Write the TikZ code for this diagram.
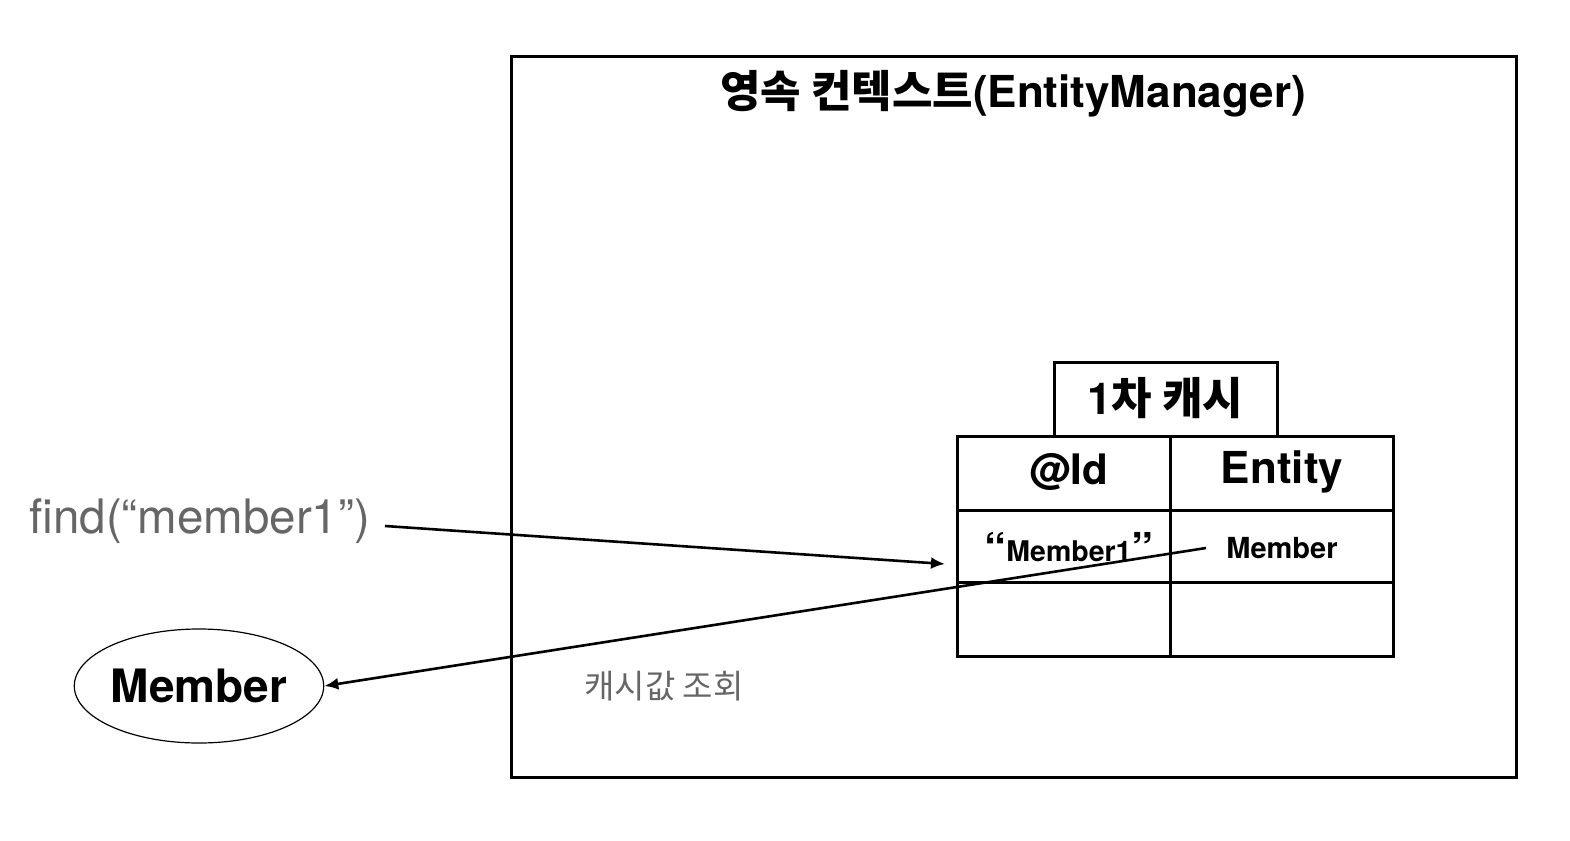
\documentclass[tikz,border=0pt]{standalone}
\usepackage{fontspec}
\setmainfont{TeX Gyre Heros}
\newfontfamily\kr{Noto Sans CJK KR}
\usetikzlibrary{arrows.meta,shapes.geometric}
\definecolor{txtgray}{HTML}{666666}
\tikzset{
  box/.style={draw=black,line width=3pt},
  cell/.style={draw=black,line width=3pt},
  conn/.style={draw=black,line width=2.6pt,-{Latex[length=14pt,width=12pt]}},
}
\begin{document}
\begin{tikzpicture}[x=1pt,y=-1pt]
\useasboundingbox (0,0) rectangle (1570,840);
% outer context
\draw[box] (511,57) rectangle (1516,777);
\node (title) at (1013,94) {\fontsize{44}{48}\selectfont\bfseries\kr 영속 컨텍스트\rmfamily\bfseries(EntityManager)};
% cache label box
\draw[box] (1054,362) rectangle (1277,436);
\node (cachelbl) at (1165,398) {\fontsize{44}{48}\selectfont\bfseries 1\kr 차 캐시};
% table
\draw[cell] (957,436) rectangle (1393,656);
\draw[cell] (1170,436) -- (1170,656);
\draw[cell] (957,510) -- (1393,510);
\draw[cell] (957,582) -- (1393,582);
\node (idh) at (1069,472) {\fontsize{42}{46}\selectfont\bfseries @Id};
\node (enth) at (1282,472) {\fontsize{44}{48}\selectfont\bfseries Entity};
\node (key) at (1069,548) {\raisebox{-3pt}{\fontsize{44}{46}\selectfont\bfseries``}\fontsize{28.5}{32}\selectfont\bfseries Member1\raisebox{-3pt}{\fontsize{44}{46}\selectfont\bfseries''}};
\node (val) at (1282,548) {\fontsize{29}{32}\selectfont\bfseries Member};
\coordinate (valstart) at (1206,548);
\coordinate (keyend) at (945,564);
% left side
\node[txtgray,anchor=west] (find) at (26,521) {\fontsize{47.5}{50}\selectfont find(``member1'')};
\coordinate (findstart) at (385,526);
\node[draw=black,line width=1.2pt,ellipse,inner sep=0pt,minimum width=244pt,minimum height=114pt] (mem) at (199,686) {\fontsize{46}{50}\selectfont\bfseries Member};
\node[txtgray] (lbl) at (664,686) {\fontsize{33}{36}\selectfont\kr 캐시값 조회};
% connectors
\draw[conn] (findstart) -- (keyend);
\draw[conn] (valstart) -- (mem.east);
\end{tikzpicture}
\end{document}
